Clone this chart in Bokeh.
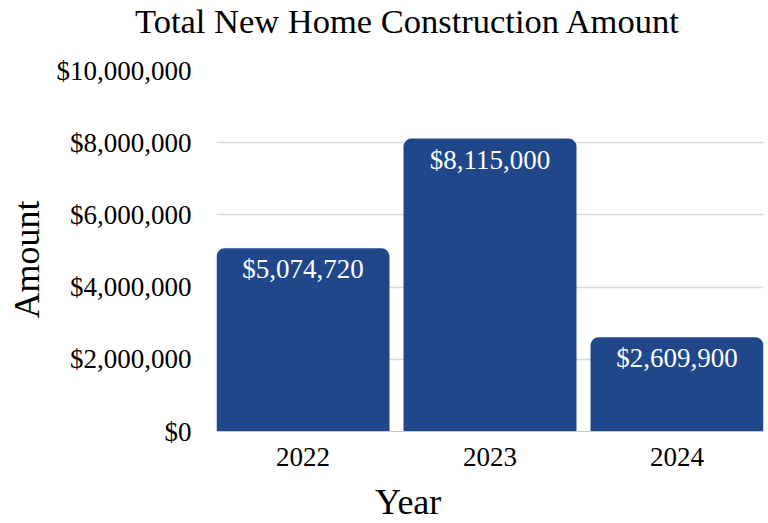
from bokeh.plotting import figure
from bokeh.layouts import column
from bokeh.models import (ColumnDataSource, FactorRange, Range1d, FixedTicker,
                          NumeralTickFormatter, Title, Div)
from bokeh.embed import file_html
from bokeh.resources import INLINE

years = ["2022", "2023", "2024"]
amounts = [5074720, 8115000, 2609900]
labels = [f"${v:,}" for v in amounts]
y_ticks = [0, 2000000, 4000000, 6000000, 8000000, 10000000]

FONT = "Liberation Serif"
BAR = "#21478B"

src = ColumnDataSource(dict(year=years, amount=amounts, label=labels))

title_div = Div(text="Total New Home Construction Amount", width=633, height=44,
                margin=(4, 0, 0, 135),
                styles={"font-family": FONT, "font-size": "34.5px", "line-height": "1",
                        "color": "black", "white-space": "nowrap", "font-weight": "normal"})

p = figure(width=768, height=427, output_backend="svg", toolbar_location=None,
           x_range=FactorRange(factors=years, range_padding=-0.0374,
                               range_padding_units="absolute"),
           y_range=Range1d(0, 10000000),
           min_border_left=216, min_border_right=5, min_border_top=22,
           min_border_bottom=44)
p.outline_line_color = None
p.background_fill_color = "white"
p.border_fill_color = "white"

p.vbar(x="year", top="amount", width=0.925, source=src, fill_color=BAR,
       line_color=None, border_radius=(8, 8, 0, 0))
p.text(x="year", y="amount", text="label", source=src, text_color="white",
       text_font=FONT, text_font_size="27px", text_align="center",
       text_baseline="top", y_offset=6)

p.xgrid.grid_line_color = None
p.ygrid.grid_line_color = "#d9d9d9"
p.ygrid.grid_line_width = 1.3
p.ygrid.ticker = FixedTicker(ticks=y_ticks)

p.yaxis.ticker = FixedTicker(ticks=y_ticks)
p.yaxis.formatter = NumeralTickFormatter(format="$0,0")
p.yaxis.axis_line_color = None
p.yaxis.major_tick_line_color = None
p.yaxis.minor_tick_line_color = None
p.yaxis.major_label_standoff = 19
p.yaxis.major_label_text_font = FONT
p.yaxis.major_label_text_font_size = "27px"
p.yaxis.major_label_text_color = "black"

p.xaxis.axis_line_color = "#c8c8c8"
p.xaxis.major_tick_line_color = None
p.xaxis.minor_tick_line_color = None
p.xaxis.major_label_standoff = 10
p.xaxis.major_label_text_font = FONT
p.xaxis.major_label_text_font_size = "27px"
p.xaxis.major_label_text_color = "black"

p.add_layout(Title(text="Amount", align="left", offset=113, vertical_align="top",
                   standoff=10, text_font=FONT, text_font_size="36px",
                   text_font_style="normal", text_color="black"), "left")

year_div = Div(text="Year", width=393, height=36, margin=(12, 0, 0, 375),
               styles={"font-family": FONT, "font-size": "36px", "line-height": "0.85",
                       "color": "black", "white-space": "nowrap", "font-weight": "normal"})

layout = column(title_div, p, year_div, spacing=0)

open("out.html", "w").write(file_html(layout, INLINE))
